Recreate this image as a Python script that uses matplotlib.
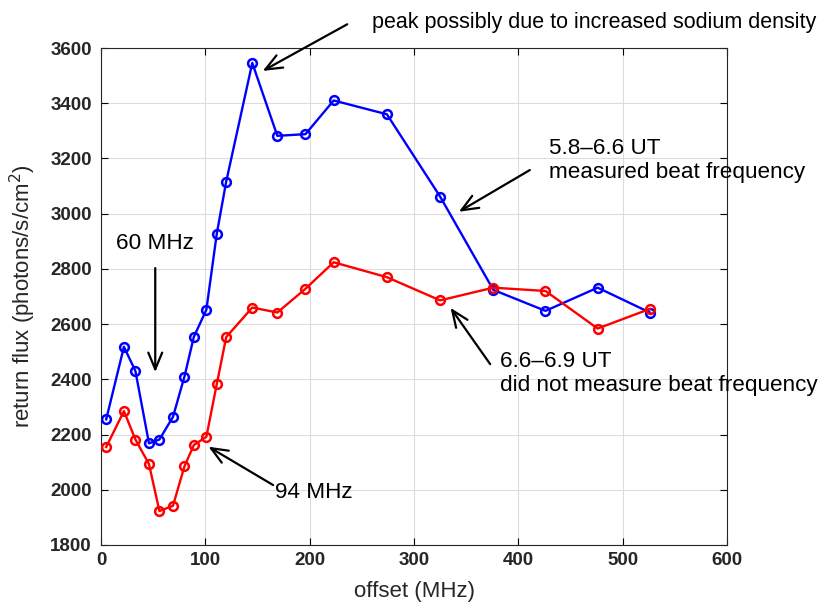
import matplotlib.pyplot as plt

plt.rcParams['font.family'] = ['Liberation Sans', 'DejaVu Sans']

# offsets (MHz)
offset = [5, 22, 33, 46, 56, 69, 80, 89, 101, 111, 120, 145, 169, 196, 223, 274, 325, 376, 426, 476, 526]

# 5.8-6.6 UT, beat frequency measured
flux_blue = [2255, 2518, 2430, 2168, 2182, 2264, 2410, 2554, 2652, 2928, 3116, 3546, 3282, 3288, 3410,
             3360, 3062, 2724, 2648, 2732, 2642]
# 6.6-6.9 UT, beat frequency not measured
flux_red = [2155, 2285, 2182, 2093, 1923, 1942, 2085, 2162, 2192, 2383, 2553, 2660, 2642, 2728, 2824,
            2770, 2686, 2732, 2720, 2584, 2655]

fig = plt.figure(figsize=(8.23, 6.04), dpi=100)
ax = fig.add_axes([0.1227, 0.0977, 0.7607, 0.8228])

ax.plot(offset, flux_blue, '-o', color='#0000ff', lw=1.7, ms=6.3, mfc='none', mew=1.8, zorder=3)
ax.plot(offset, flux_red, '-o', color='#ff0000', lw=1.7, ms=6.3, mfc='none', mew=1.8, zorder=3)

ax.set_xlim(0, 600)
ax.set_ylim(1800, 3600)
ax.set_xticks(range(0, 601, 100))
ax.set_yticks(range(1800, 3601, 200))
ax.grid(True, color='#dcdcdc', lw=0.8)
ax.set_axisbelow(True)
ax.tick_params(direction='in', top=True, right=True, length=5, width=0.8,
               labelsize=13.5, labelcolor='#262626')
ax.tick_params(axis='x', pad=5)
ax.tick_params(axis='y', pad=6.5)
for lab in ax.get_xticklabels() + ax.get_yticklabels():
    lab.set_fontweight('bold')
for s in ax.spines.values():
    s.set_color('#262626')
    s.set_linewidth(0.8)

ax.set_xlabel('offset (MHz)', fontsize=16, color='#262626', labelpad=9)
ax.set_ylabel('return flux (photons/s/cm$^2$)', fontsize=16, color='#262626', labelpad=9)

arrow = dict(arrowstyle='->, head_length=0.6, head_width=0.25', color='black', lw=1.6,
             mutation_scale=20, shrinkA=0, shrinkB=0)
fs = 16.2

ax.annotate('', xy=(155, 3517), xytext=(236, 3686), arrowprops=arrow, annotation_clip=False)
ax.text(260, 3694, 'peak possibly due to increased sodium density', fontsize=15.5,
        ha='left', va='center', clip_on=False)

ax.annotate('', xy=(343, 3007), xytext=(411, 3158), arrowprops=arrow)
ax.text(429, 3192, '5.8\u20136.6 UT\nmeasured beat frequency', fontsize=fs, ha='left', va='center')

ax.annotate('', xy=(52, 2426), xytext=(52, 2803), arrowprops=arrow)
ax.text(52, 2893, '60 MHz', fontsize=fs, ha='center', va='center')

ax.annotate('', xy=(103, 2156), xytext=(165, 2017), arrowprops=arrow)
ax.text(167, 1991, '94 MHz', fontsize=fs, ha='left', va='center')

ax.annotate('', xy=(335, 2659), xytext=(373, 2455), arrowprops=arrow)
ax.text(382, 2422, '6.6\u20136.9 UT\ndid not measure beat frequency', fontsize=fs, ha='left',
        va='center')

fig.savefig('out.png', dpi=100)
